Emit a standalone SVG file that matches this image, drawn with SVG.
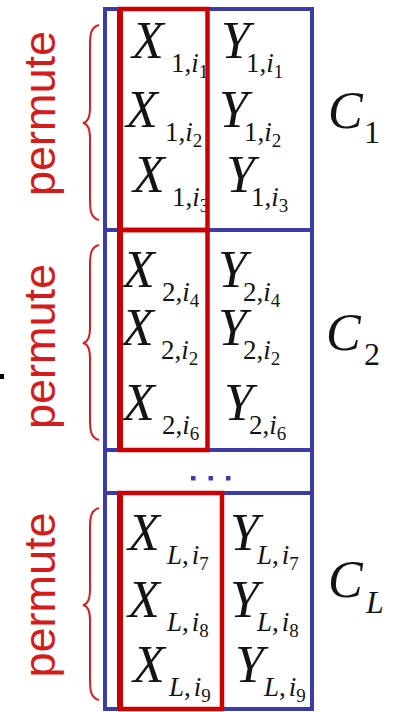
<svg xmlns="http://www.w3.org/2000/svg" width="398" height="712" viewBox="0 0 398 712">
<style>
.m{font-family:"Liberation Serif","Times New Roman",serif;font-style:italic;font-size:52px;fill:#141414}
.s{font-style:normal;font-size:27px}
.si{font-style:italic;font-size:27px}
.ss{font-style:normal;font-size:19px}
.c{font-family:"Liberation Serif","Times New Roman",serif;font-style:italic;font-size:52px;fill:#141414}
.cs{font-style:normal;font-size:32px}
.csi{font-style:italic;font-size:32px}
.blue{fill:none;stroke:#3c3ca8;stroke-width:4}
.red{fill:none;stroke:#cc0000;stroke-width:4.5}
.redl{stroke:#cc0000;stroke-width:6}
.brace{fill:none;stroke:#d42020;stroke-width:2}
.perm{font-family:"Liberation Sans",Arial,sans-serif;font-size:45px;fill:#d41c1c;text-anchor:middle}
.dot{fill:#3c3ca8}
</style>
<rect width="398" height="712" fill="#ffffff"/>
<rect x="0" y="374" width="4" height="5" fill="#000"/>

<g id="frame">
<rect class="blue" x="105" y="9" width="207" height="700"/>
<line class="blue" x1="105" y1="230" x2="312" y2="230"/>
<line class="blue" x1="105" y1="450" x2="312" y2="450"/>
<line class="blue" x1="105" y1="493" x2="312" y2="493"/>
</g>

<g id="block1">
<text class="m" x="132" y="58">X<tspan class="s" x="171" y="71.5">1,</tspan><tspan class="si">i</tspan><tspan class="ss" y="78">1</tspan></text>
<text class="m" x="126" y="127">X<tspan class="s" x="165" y="140.5">1,</tspan><tspan class="si">i</tspan><tspan class="ss" y="147">2</tspan></text>
<text class="m" x="133" y="192">X<tspan class="s" x="172" y="205.5">1,</tspan><tspan class="si">i</tspan><tspan class="ss" y="212">3</tspan></text>
<text class="m" x="221" y="58">Y<tspan class="s" x="246" y="71.5">1,</tspan><tspan class="si">i</tspan><tspan class="ss" y="78">1</tspan></text>
<text class="m" x="219" y="127">Y<tspan class="s" x="244" y="140.5">1,</tspan><tspan class="si">i</tspan><tspan class="ss" y="147">2</tspan></text>
<text class="m" x="226" y="192">Y<tspan class="s" x="251" y="205.5">1,</tspan><tspan class="si">i</tspan><tspan class="ss" y="212">3</tspan></text>
<rect class="red" x="120" y="9" width="87.5" height="221"/>
<line class="redl" x1="120" y1="9" x2="120" y2="230"/>
<text class="c" x="328" y="128">C<tspan class="cs" x="364" y="143">1</tspan></text>
</g>

<g id="block2">
<text class="m" x="123" y="287">X<tspan class="s" x="162" y="300.5">2,</tspan><tspan class="si">i</tspan><tspan class="ss" y="307">4</tspan></text>
<text class="m" x="122" y="345">X<tspan class="s" x="161" y="358.5">2,</tspan><tspan class="si">i</tspan><tspan class="ss" y="365">2</tspan></text>
<text class="m" x="123" y="420">X<tspan class="s" x="162" y="433.5">2,</tspan><tspan class="si">i</tspan><tspan class="ss" y="440">6</tspan></text>
<text class="m" x="218" y="287">Y<tspan class="s" x="243" y="300.5">2,</tspan><tspan class="si">i</tspan><tspan class="ss" y="307">4</tspan></text>
<text class="m" x="218" y="345">Y<tspan class="s" x="243" y="358.5">2,</tspan><tspan class="si">i</tspan><tspan class="ss" y="365">2</tspan></text>
<text class="m" x="224" y="420">Y<tspan class="s" x="249" y="433.5">2,</tspan><tspan class="si">i</tspan><tspan class="ss" y="440">6</tspan></text>
<rect class="red" x="120" y="230" width="87.5" height="220"/>
<line class="redl" x1="120" y1="230" x2="120" y2="450"/>
<text class="c" x="326" y="350">C<tspan class="cs" x="364" y="365">2</tspan></text>
</g>

<g id="ellipsis">
<rect class="dot" x="191" y="476" width="4.5" height="4.5"/>
<rect class="dot" x="208.5" y="476" width="4.5" height="4.5"/>
<rect class="dot" x="226" y="476" width="4.5" height="4.5"/>
</g>

<g id="blockL">
<text class="m" x="128" y="550">X<tspan class="si" x="167" y="563.5">L</tspan><tspan class="s">,</tspan><tspan class="si" dx="3">i</tspan><tspan class="ss" y="570">7</tspan></text>
<text class="m" x="128" y="617">X<tspan class="si" x="167" y="630.5">L</tspan><tspan class="s">,</tspan><tspan class="si" dx="3">i</tspan><tspan class="ss" y="637">8</tspan></text>
<text class="m" x="133" y="682">X<tspan class="si" x="169" y="695.5">L</tspan><tspan class="s">,</tspan><tspan class="si" dx="3">i</tspan><tspan class="ss" y="702">9</tspan></text>
<text class="m" x="230" y="550">Y<tspan class="si" x="257" y="563.5">L</tspan><tspan class="s">,</tspan><tspan class="si" dx="3">i</tspan><tspan class="ss" y="570">7</tspan></text>
<text class="m" x="230" y="617">Y<tspan class="si" x="257" y="630.5">L</tspan><tspan class="s">,</tspan><tspan class="si" dx="3">i</tspan><tspan class="ss" y="637">8</tspan></text>
<text class="m" x="235" y="682">Y<tspan class="si" x="264" y="695.5">L</tspan><tspan class="s">,</tspan><tspan class="si" dx="3">i</tspan><tspan class="ss" y="702">9</tspan></text>
<rect class="red" x="120" y="493" width="102" height="216"/>
<line class="redl" x1="120" y1="493" x2="120" y2="709"/>
<text class="c" x="328" y="597">C<tspan class="csi" x="366" y="613">L</tspan></text>
</g>

<g id="braces">
<path class="brace" d="M99,25 C91,27 90,34 90,45 L90,108 C90,117 88,122 83,123 C88,124 90,129 90,138 L90,200 C90,211 91,218 99,220"/>
<path class="brace" d="M99,245 C91,247 90,254 90,265 L90,328 C90,337 88,342 83,343 C88,344 90,349 90,358 L90,420 C90,431 91,438 99,440"/>
<path class="brace" d="M99,508 C91,510 90,517 90,528 L90,590 C90,599 88,604 83,605 C88,606 90,611 90,620 L90,680 C90,691 91,698 99,700"/>
</g>

<g id="labels">
<text class="perm" transform="translate(55,113.5) rotate(-90)">permute</text>
<text class="perm" transform="translate(55,346.5) rotate(-90)">permute</text>
<text class="perm" transform="translate(55,595) rotate(-90)">permute</text>
</g>
</svg>
